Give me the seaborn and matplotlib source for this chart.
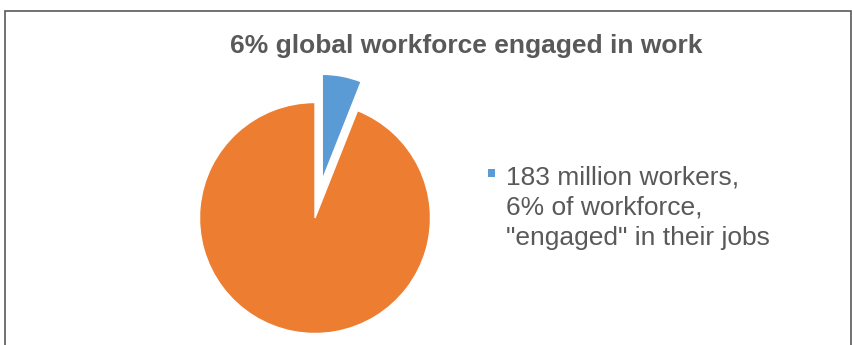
import matplotlib
matplotlib.use("Agg")
import matplotlib.pyplot as plt
import seaborn as sns
from matplotlib.patches import Rectangle
from matplotlib.legend_handler import HandlerPatch

sns.set_style("white")
plt.rcParams['font.family'] = ['Liberation Sans', 'DejaVu Sans']

categories = ['183 million workers,\n6% of workforce,\n"engaged" in their jobs', 'Not engaged']
values = [6, 94]
colors = ['#5B9BD5', '#ED7D31']
title = '6% global workforce engaged in work'

W, H = 853, 345
fig = plt.figure(figsize=(W / 100, H / 100), dpi=100)

# pie axes: center (315, 218) px from top, radius 115.5 px
cx, cy, r = 315, 218, 115.5
half = 150
ax = fig.add_axes([(cx - half) / W, (H - cy - half) / H, 2 * half / W, 2 * half / H])
wedges, _ = ax.pie(values, colors=colors, startangle=90, counterclock=False,
                   explode=[0.335, 0], radius=1,
                   wedgeprops=dict(edgecolor='white', linewidth=1.0))
wedges[0].set_radius(0.915)
lim = half / r
ax.set_xlim(-lim, lim)
ax.set_ylim(-lim, lim)
ax.set_aspect('equal')
ax.axis('off')

fig.text(466 / W, 1 - 53 / H, title, ha='center', va='baseline',
         fontsize=19, fontweight='bold', color='#595959')

MARK = 5.6      # square size, points
LIFT = 24.8     # lift to first text line, points


def square_first_line(legend, orig_handle, xdescent, ydescent, width, height, fontsize):
    cxh = width / 2 - xdescent
    cyh = height / 2 - ydescent + LIFT
    return Rectangle((cxh - MARK / 2, cyh - MARK / 2), MARK, MARK)


leg = fig.legend([wedges[0]], [categories[0]], loc='upper left',
                 bbox_to_anchor=(488 / W, 1 - 165 / H), frameon=False,
                 fontsize=19, labelcolor='#595959', handlelength=0.27,
                 handleheight=0.7, handletextpad=0.42, borderpad=0,
                 borderaxespad=0,
                 handler_map={wedges[0]: HandlerPatch(patch_func=square_first_line)})
for t in leg.get_texts():
    t.set_linespacing(1.34)
for h in leg.legend_handles:
    h.set_linewidth(0)

fig.patches.append(Rectangle((5.5 / W, -0.1), (851 - 5.5) / W, 1.1 - 10.5 / H,
                             transform=fig.transFigure, fill=False,
                             edgecolor='#595959', linewidth=1.2))

fig.savefig('out.png', dpi=100)
